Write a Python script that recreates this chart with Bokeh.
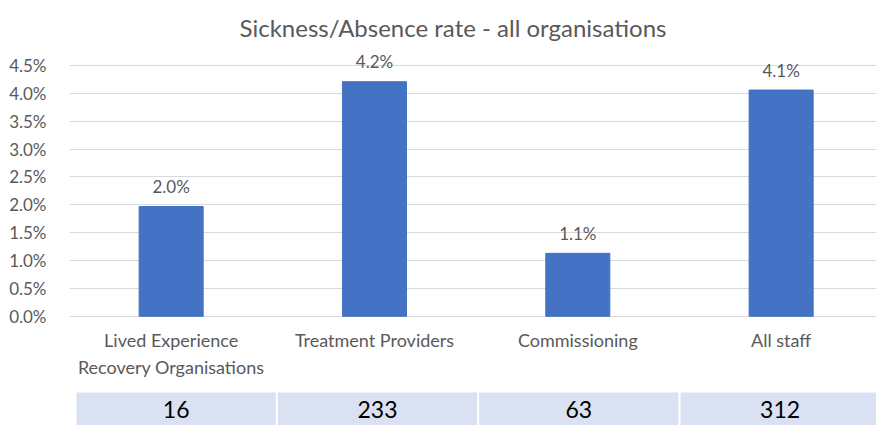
from bokeh.plotting import figure
from bokeh.models import Range1d, FixedTicker, NumeralTickFormatter, Title, ColumnDataSource
from bokeh.core.properties import value
from bokeh.embed import file_html
from bokeh.resources import INLINE

# ---- data ----
title_text = "Sickness/Absence rate - all organisations"
categories = ["Lived Experience\nRecovery Organisations", "Treatment Providers", "Commissioning", "All staff"]
rates = [0.0197, 0.0421, 0.0113, 0.0406]
rate_labels = ["2.0%", "4.2%", "1.1%", "4.1%"]
staff_counts = ["16", "233", "63", "312"]
y_ticks = [0.0, 0.005, 0.01, 0.015, 0.02, 0.025, 0.03, 0.035, 0.04, 0.045]

FONT = "Lato"
GREY = "#595959"
BAR = "#4472C4"

idx = list(range(len(categories)))

p = figure(width=876, height=425, output_backend="svg", toolbar_location=None,
           x_range=Range1d(-0.5, 3.469), y_range=Range1d(-0.0196, 0.0477),
           x_axis_location=None,
           min_border_left=69, min_border_right=0, min_border_top=50, min_border_bottom=0)
p.outline_line_color = None
p.background_fill_color = "white"
p.border_fill_color = "white"

# secondary ranges for the staff-count row underneath the chart
p.extra_x_ranges = {"table": Range1d(-0.0348, 3.974)}
p.extra_y_ranges = {"table": Range1d(0, 11.364)}

src = ColumnDataSource(dict(x=idx, top=rates, lab=rate_labels, cat=categories))
p.vbar(x="x", top="top", width=0.315, bottom=0, source=src, fill_color=BAR, line_color=BAR)
p.text(x="x", y="top", text="lab", source=src, y_offset=-20, text_align="center",
       text_baseline="middle", text_font=value(FONT), text_font_size="17px", text_color=GREY)

# category labels under the baseline
p.text(x="x", y=0, text="cat", source=src, y_offset=13, text_align="center",
       text_baseline="top", text_font=value(FONT), text_font_size="18px", text_color=GREY,
       text_line_height=1.2)

# y axis
p.yaxis.ticker = FixedTicker(ticks=y_ticks)
p.yaxis.formatter = NumeralTickFormatter(format="0.0%")
p.yaxis.axis_line_color = None
p.yaxis.major_tick_line_color = None
p.yaxis.minor_tick_line_color = None
p.yaxis.major_label_standoff = 17
p.yaxis.major_label_text_font = FONT
p.yaxis.major_label_text_font_size = "17px"
p.yaxis.major_label_text_color = GREY

p.xgrid.grid_line_color = None
p.ygrid.grid_line_color = "#d9d9d9"
p.ygrid.grid_line_width = 1

p.add_layout(Title(text=title_text, align="left", offset=170, text_font=FONT,
                   text_font_size="24px", text_color=GREY, text_font_style="normal",
                   vertical_align="top", standoff=14), "above")

# table row
tsrc = ColumnDataSource(dict(l=[i for i in idx], r=[i + 0.99 for i in idx],
                             c=[i + 0.495 for i in idx], n=staff_counts))
p.quad(left="l", right="r", bottom=0, top=1, source=tsrc, fill_color="#D9E1F2", line_color=None,
       x_range_name="table", y_range_name="table")
p.text(x="c", y=0.47, text="n", source=tsrc, text_align="center", text_baseline="middle",
       text_font=value(FONT), text_font_size="23px", text_color="black",
       x_range_name="table", y_range_name="table")

open("out.html", "w").write(file_html(p, INLINE))
